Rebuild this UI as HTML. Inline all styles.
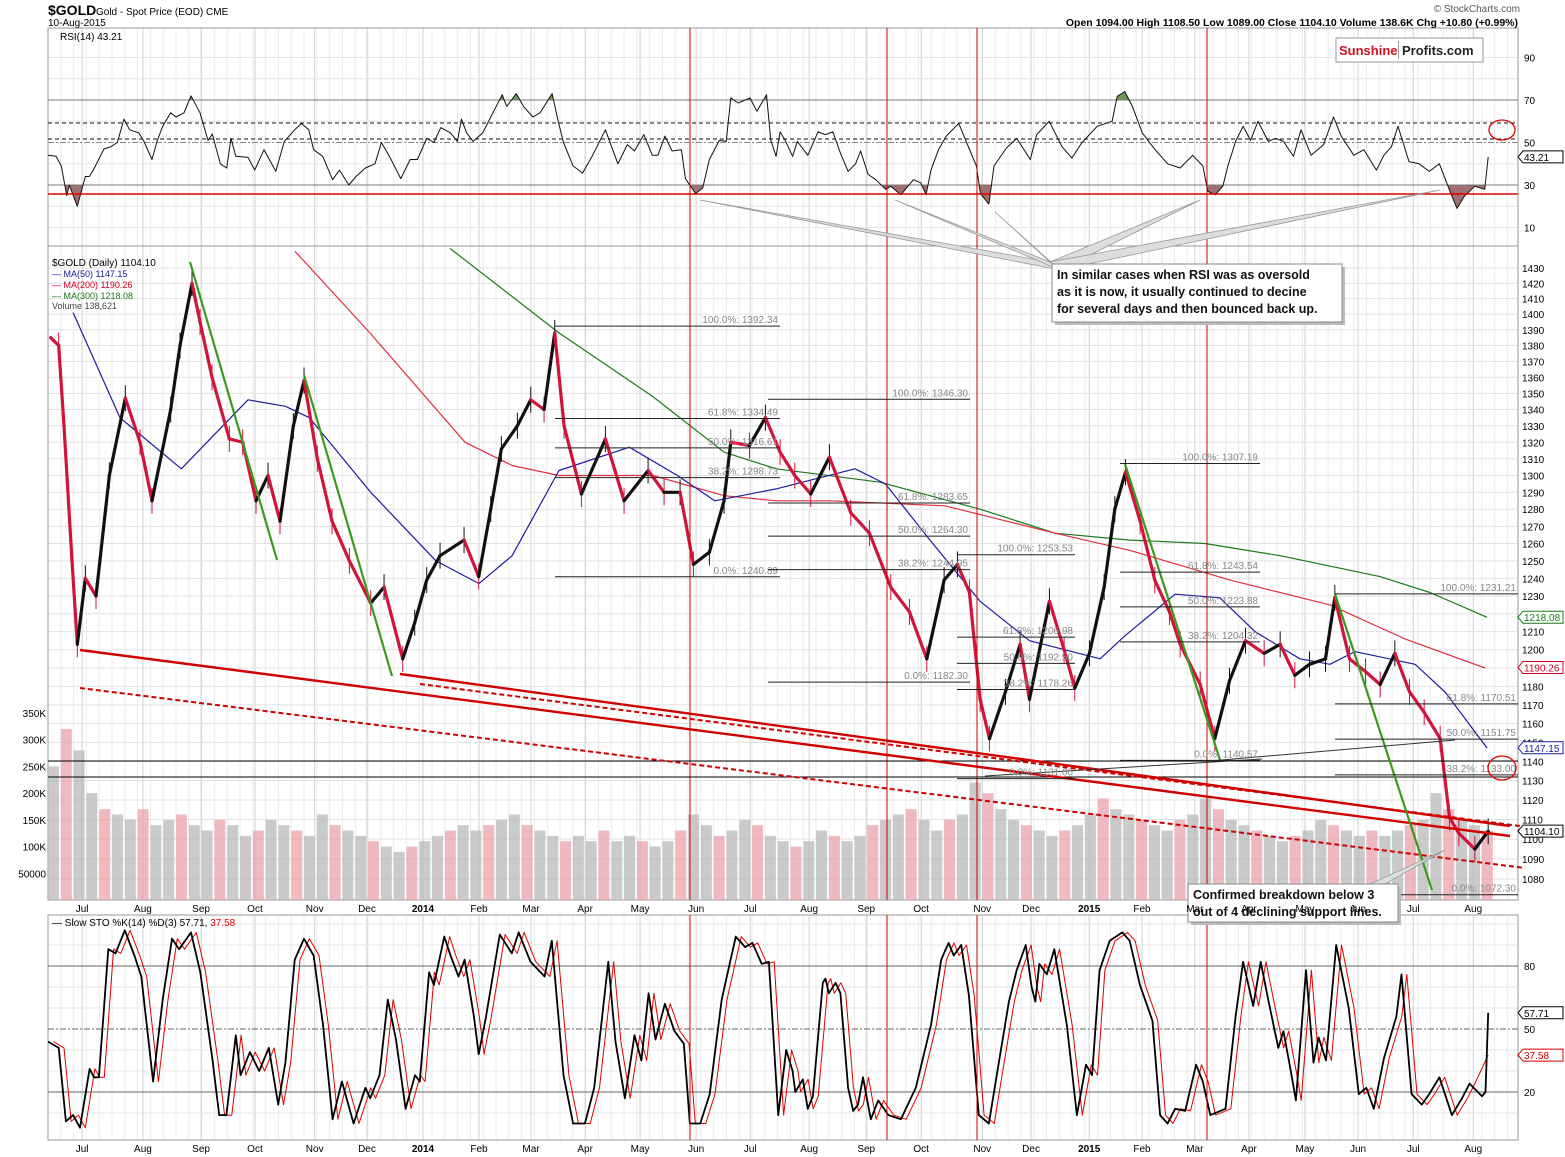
<!DOCTYPE html>
<html><head><meta charset="utf-8"><title>$GOLD chart</title>
<style>
html,body{margin:0;padding:0;background:#fff;}
svg{display:block;font-family:"Liberation Sans",Arial,sans-serif;}
</style></head>
<body>
<svg id="chart" width="1565" height="1157" viewBox="0 0 1565 1157" xmlns="http://www.w3.org/2000/svg">
<rect x="0" y="0" width="1565" height="1157" fill="#fff"/>
<g id="grid"></g>
<g id="panels"></g>
<g id="marks"></g>
<g id="annot"></g>
<g id="labels"></g>
</svg>
<script>
// ---------- data ----------
const monthLabels = ["Jul","Aug","Sep","Oct","Nov","Dec","2014","Feb","Mar","Apr","May","Jun","Jul","Aug","Sep","Oct","Nov","Dec","2015","Feb","Mar","Apr","May","Jun","Jul","Aug"];
const monthDays = [12.8,35.6,57.4,77.6,100,119.6,140.6,161.6,181.1,201.4,222,243,263.3,285.4,306.8,327.4,350.3,368.6,390.4,410.2,430,450.3,471.3,491.2,511.9,534.4];
const priceTicks = [1430,1420,1410,1400,1390,1380,1370,1360,1350,1340,1330,1320,1310,1300,1290,1280,1270,1260,1250,1240,1230,1220,1210,1200,1190,1180,1170,1160,1150,1140,1130,1120,1110,1100,1090,1080];
const volTicks = [350,300,250,200,150,100,50];
const volTickLabels = ["350K","300K","250K","200K","150K","100K","50000"];
const rsiTicks = [90,70,50,30,10];
const stoTicks = [80,50,20];

const priceDays = [1,4,6,9,11,14,18,23,29,34.5,39,46,49.5,54,57,61.5,68,73,78,82.5,87,92,96,101,106.5,113,121,126,133,137.5,142,147,156,161.5,166,170,176,181,186,190,193.5,200,209,216,225,231,237,242,248,253.5,256,263,269,274.5,280,286,293,301,308,316,323,329.5,336,341,345.5,349.5,353,359,364.5,368,375.5,381,385,390.5,396,400,404,409.5,415,420.5,424.5,432,437.5,443,449,456,462,467.5,473,479,482.5,488,494,499.5,505,510.5,516,522,525.5,529,535,540];
const priceCloses = [1385,1380,1330,1250,1203,1240,1230,1300,1347,1320,1285,1340,1380,1420,1395,1360,1322,1320,1285,1300,1273,1330,1358,1310,1273,1250,1226,1235,1195,1215,1239,1253,1262,1241,1280,1316,1330,1346,1340,1388,1330,1289,1322,1285,1303,1290,1290,1248,1255,1285,1320,1318,1335,1314,1300,1289,1311,1278,1266,1235,1221,1195,1239,1248,1232,1173,1152,1177,1203,1173,1227,1200,1179,1198,1235,1280,1302,1273,1239,1221,1203,1181,1152,1183,1205,1198,1203,1186,1192,1195,1229,1195,1188,1181,1198,1177,1166,1152,1111,1103,1095,1104];

const ma50Days = [9.4,27,50,75,89,98,121,145.5,161.6,174,191.6,218,236,250,273,302.6,314,330.7,349.5,368,394.5,404,422.6,439.4,452.6,469.4,480.7,490,512.6,523.8,539.6];
const ma50Vals = [1401,1335,1304,1346,1342,1335,1290,1250,1237,1253,1303,1317,1300,1285,1292,1304,1295,1262,1227,1205,1195,1208,1231,1229,1210,1195,1192,1199,1192,1177,1147];
const ma200Days = [92.6,120.7,156.4,174,191.6,226.8,253.5,273,293.2,336.3,377.6,405.7,443.2,480.7,508.8,538.8];
const ma200Vals = [1441,1388,1320,1306,1300,1300,1288,1285,1285,1282,1266,1256,1239,1225,1206,1190];
const ma300Days = [150.7,191.6,226.8,253.5,273,312,349.5,377.6,405.7,433.8,462,499.4,518.2,539.6];
const ma300Vals = [1443,1388,1348,1314,1304,1296,1280,1266,1262,1260,1253,1241,1232,1218];

const volWeeks = [250,320,280,200,170,160,150,170,140,150,160,140,130,150,140,120,130,150,140,130,120,160,140,130,120,110,100,90,100,110,120,130,140,130,140,150,160,140,130,120,110,120,110,130,110,120,110,100,110,130,160,140,120,130,150,140,120,110,100,110,130,120,110,120,140,150,160,170,150,130,150,160,220,200,170,150,140,130,120,130,140,160,190,170,160,150,140,130,150,160,190,170,150,140,130,120,110,120,130,150,140,130,120,130,120,130,140,150,200,170,150,140,130];

const rsiDays = [0,3,5,7,8,11,14,15.5,17,21,23.5,26,28.5,30.6,34,36,39,41,43,46,48,51,53.6,57,60,61.6,64.6,67,68.6,70.4,75,77.5,81,85.4,88.6,92.5,95,97.8,99.6,103,106.7,109.3,112.8,115.5,119,122.6,125,128,132.3,135.8,138.5,142,144.7,147.3,150.9,153.5,155,157,159.4,163,166.8,170.3,172,175.6,178.3,181.8,184.5,189,191.5,193.3,196.9,200.4,204,209,213.7,217.2,219.9,223.4,226.6,228.7,231.3,234,237.5,239,242.8,245.5,248,251.7,254.3,256,258.8,263.2,265.8,269.4,271,273,274.5,276.4,279.2,281,284.9,288.7,291.5,294.3,297.1,300,302.8,304.7,307.5,310.4,314.1,316,319.8,324.5,327.3,329.2,331.1,333.9,336.8,341.5,345.3,348.1,349.6,352.8,354.7,359.4,363.2,368.3,370.7,375.4,380.2,383.9,387.7,393.4,399,400.9,403.7,406.6,410.3,415.1,419.8,424.5,429.2,433,434.9,437.7,440.5,442.4,445.3,448.1,450.9,453.7,457.5,460.3,463.2,467,469.8,473.6,478.3,482,484.9,489.6,493.4,498.1,500.9,503.7,506.2,510.3,514.1,517.9,521.7,525.4,528.3,531.1,534.9,538.7,540];
const rsiVals = [44,43.5,39,25,30,20,34,34,37,47,48,50,61,56,54.5,50.5,42,51,57.6,64,62,64,72,64,51,54,40,38,52,43.5,43,37,46.6,36.4,50.5,56,59,56,46.6,43.5,32.5,37,30,34,38,40,50,43.5,33,42,42,52,50,57,54.5,50.5,61,54.5,50.5,54.5,64,72.5,67,73,67,62,64,73,59,50,39,35.6,43.5,56,40,49,46,53.7,44,44,53,46,46.6,33,26,28.6,42,51,50.5,71,68.6,71,64.7,72.5,51,43.5,55,51,43.5,50.5,44,55,53.7,55,45,36.4,40,46,35,32.5,28,29.4,25.4,32.5,31,25.4,37,46.6,53,59,47.4,39,26,21,39,47.4,52,42,53.7,60,48,42.7,50,57.6,60,71.7,74,67,54.5,46.6,40,38,44,39,27,25.4,29.4,39,50.5,57.6,51,60,50.5,52,50.5,43.5,56,44,49,62,53,44,46.6,37,44,48,57.6,41,40,36.4,40,28,19,24.7,29.4,28,43.21];

const stoDays = [0,4,6.7,9.4,12,15.6,17.3,19.1,22.6,25.3,28.8,32.4,35,39.4,43,46.5,49.2,53.6,57.1,61.6,64.2,66.9,70.4,72.2,75.7,79.2,82.8,86.3,89,92.5,96,99.6,103.1,106.7,110.2,114.6,119,120.8,124.3,127.4,130.5,134.1,137.6,139.4,142.9,144.7,148.6,150.9,153.9,156.2,159.7,161.5,164.1,169.4,173.9,176.5,180.9,186.2,188.9,193.3,196.9,201.3,204.8,210.1,212.8,216.3,219.9,222.5,225.2,227.8,231.3,234.9,238.4,240.7,244.6,248.1,252.6,257.9,261.4,264.1,267.6,270.3,273.8,276.8,279.2,280.2,283,284.9,286.8,290.5,291.5,292.8,295.3,297.1,300,301.9,303.7,305.6,308.5,311.3,315.1,319.8,325.4,331.1,334.9,337.7,339.6,342.4,345.3,349,352.8,355.6,360.3,363.2,366.6,368.8,370.2,371.7,374.5,377.3,382,385.8,389.2,391.5,394.3,398.1,402.8,405.6,409.4,414.1,417,419.8,422.6,426.4,430.5,433,435.8,441.5,445.3,448.1,451.9,454.7,457.5,461.3,463.2,466,467.9,471.7,474.5,476.4,479.2,483,487.7,491.5,494.3,497.1,500.9,505.6,507.5,511.3,515.1,517.9,521.7,526.4,530.2,533,537.7,539,540];
const stoK = [44,41,6,9,3,31,27,27,88,86,97,85,75,25,64,93,88,96,77,36,9,9,47,28,39,30,41,14,34,83,93,85,52,7,25,5,22,17,28,64,45,12,28,25,77,71,94,85,75,83,56,38,55,95,86,96,82,75,92,28,5,5,22,82,44,17,47,35,67,45,62,49,43,5,5,19,64,94,89,91,81,82,9,40,30,20,26,12,18,72,74,67,72,67,22,11,14,27,7,16,9,7,22,52,83,91,85,90,66,9,5,27,63,78,90,70,63,81,76,88,52,9,33,28,78,92,96,92,71,54,9,5,12,11,33,25,9,12,56,82,61,82,64,41,49,30,16,78,34,46,35,90,60,19,22,12,36,56,76,19,14,19,27,9,17,24,18,20,57.71];
const stoDLagDays = 2;
const stoDLast = 37.58;

// ---------- scales ----------
const X0 = 48, DX = 2.667;
const xT = t => X0 + t * DX;
const yP = p => 268 + 2177 * Math.log(1430 / p);
const yV = v => 900 - v * 0.5343;
const yR = r => 100 + (70 - r) * 2.125;
const yS = s => 966 + (80 - s) * 2.1;
const PL = 48, PR = 1518;
const NS = "http://www.w3.org/2000/svg";
function mk(tag, attrs, parent, text) {
  const e = document.createElementNS(NS, tag);
  for (const k in attrs) e.setAttribute(k, attrs[k]);
  if (text !== undefined) e.textContent = text;
  parent.appendChild(e);
  return e;
}
const G = document.getElementById('grid'), P = document.getElementById('panels'),
      M = document.getElementById('marks'), A = document.getElementById('annot'),
      L = document.getElementById('labels'), S = document.getElementById('chart');

const defs = mk('defs', {}, S);
function clip(id, y1, y2) { const c = mk('clipPath', {id: id}, defs); mk('rect', {x: PL, y: y1, width: PR - PL, height: y2 - y1}, c); }
clip('cRsi', 28, 246); clip('cMain', 246, 900); clip('cSto', 915, 1140);
const cb = mk('clipPath', {id: 'cRsiLow'}, defs); mk('rect', {x: PL, y: yR(30), width: PR - PL, height: 60}, cb);
const ca = mk('clipPath', {id: 'cRsiHigh'}, defs); mk('rect', {x: PL, y: 28, width: PR - PL, height: yR(70) - 28}, ca);

// ---------- grid ----------
const panelsY = [[28, 246], [246, 900], [915, 1140]];
for (let w = 0; w < 115; w++) {
  const x = xT(w * 4.8);
  if (x > PR) break;
  panelsY.forEach(py => {
    const l = mk('line', {x1: x, x2: x, y1: py[0], y2: py[1], stroke: '#ececec', 'stroke-width': 1}, G);
    
    
  });
}
monthDays.forEach(t => {
  panelsY.forEach(py => {
    const l = mk('line', {x1: xT(t), x2: xT(t), y1: py[0], y2: py[1], stroke: '#d0d0d0', 'stroke-width': 1}, G);
    
    
  });
});
priceTicks.forEach(p => {
  const l = mk('line', {x1: PL, x2: PR, y1: yP(p), y2: yP(p), stroke: '#e2e2e2', 'stroke-width': 1}, G);
  
  
});
[90,80,60,40,20,10].forEach(r => {
  const l = mk('line', {x1: PL, x2: PR, y1: yR(r), y2: yR(r), stroke: '#e6e6e6'}, G);
  
  
});
[100,90,70,60,40,30,10].forEach(s => {
  const l = mk('line', {x1: PL, x2: PR, y1: yS(s), y2: yS(s), stroke: '#e6e6e6'}, G);
  
  
});

panelsY.forEach((py, i) => {
  const r = mk('rect', {x: PL, y: py[0], width: PR - PL, height: py[1] - py[0], fill: 'none', stroke: '#999', 'stroke-width': 1}, P);
  
  
});

// ---------- volume ----------
volWeeks.forEach((v, i) => {
  const t = i * 4.8;
  const x = xT(t);
  if (x > PR - 30) return;
  const col = (i % 3 === 1) ? '#e8a2aa' : '#b8b8b8';
  const r = mk('rect', {x: x, y: yV(v), width: 11, height: 900 - yV(v), fill: col, 'fill-opacity': 0.75}, M);
  
  
});

// ---------- MA lines ----------
function poly(days, vals, yf, color, w, name, clipId) {
  const pts = days.map((d, i) => xT(d).toFixed(1) + ',' + yf(vals[i]).toFixed(1)).join(' ');
  const e = mk('polyline', {points: pts, fill: 'none', stroke: color, 'stroke-width': w, 'clip-path': 'url(#' + clipId + ')', 'stroke-linejoin': 'round'}, M);
  
  
  return e;
}
poly(ma300Days, ma300Vals, yP, '#1a7a1a', 1.2, 'ma300-line', 'cMain');
poly(ma200Days, ma200Vals, yP, '#e03040', 1.2, 'ma200-line', 'cMain');
poly(ma50Days, ma50Vals, yP, '#1c1ca0', 1.2, 'ma50-line', 'cMain');

// ---------- price ----------
for (let i = 1; i < priceDays.length; i++) {
  const down = priceCloses[i] < priceCloses[i - 1];
  const col = down ? '#d0143c' : '#111';
  const l = mk('line', {x1: xT(priceDays[i - 1]), y1: yP(priceCloses[i - 1]), x2: xT(priceDays[i]), y2: yP(priceCloses[i]), stroke: col, 'stroke-width': 3.2, 'stroke-linecap': 'round'}, M);
  
  
  const wk = mk('line', {x1: xT(priceDays[i]), x2: xT(priceDays[i]), y1: yP(priceCloses[i]) - 13, y2: yP(priceCloses[i]) + 13, stroke: col, 'stroke-width': 1}, M);
  
  
}

// ---------- RSI ----------
(function () {
  const pts = rsiDays.map((d, i) => xT(d).toFixed(1) + ',' + yR(rsiVals[i]).toFixed(1));
  const lowPoly = mk('polygon', {points: xT(rsiDays[0]) + ',' + yR(30) + ' ' + pts.join(' ') + ' ' + xT(rsiDays[rsiDays.length - 1]) + ',' + yR(30), fill: '#a07070', 'clip-path': 'url(#cRsiLow)'}, M);
  
  
  const hiPoly = mk('polygon', {points: xT(rsiDays[0]) + ',' + yR(70) + ' ' + pts.join(' ') + ' ' + xT(rsiDays[rsiDays.length - 1]) + ',' + yR(70), fill: '#6a9a50', 'clip-path': 'url(#cRsiHigh)'}, M);
  
  
})();
[[70, '#777', ''], [30, '#777', ''], [50, '#888', '6,2,2,2']].forEach(o => {
  const l = mk('line', {x1: PL, x2: PR, y1: yR(o[0]), y2: yR(o[0]), stroke: o[1], 'stroke-width': 1, 'stroke-dasharray': o[2]}, M);
  
  
});
[123, 139].forEach(y => {
  const l = mk('line', {x1: PL, x2: PR, y1: y, y2: y, stroke: '#111', 'stroke-width': 1, 'stroke-dasharray': '4,3'}, A);
  
  
});
poly(rsiDays, rsiVals, yR, '#111', 1, 'rsi-line', 'cRsi');
{ const l = mk('line', {x1: PL, x2: PR, y1: 194, y2: 194, stroke: '#e00000', 'stroke-width': 1.5}, A);
    }

// ---------- Stochastic ----------
[[80, ''], [20, ''], [50, '6,2,2,2']].forEach(o => {
  const l = mk('line', {x1: PL, x2: PR, y1: yS(o[0]), y2: yS(o[0]), stroke: '#666', 'stroke-width': 1, 'stroke-dasharray': o[1]}, M);
  
  
});
{
  const dDays = stoDays.map(d => d + stoDLagDays).filter(d => d <= 540);
  const dVals = stoK.slice(0, dDays.length - 1).concat([stoDLast]);
  dDays[dDays.length - 1] = 540;
  poly(dDays, dVals, yS, '#e00000', 1, 'sto-d-line', 'cSto');
}
poly(stoDays, stoK, yS, '#000', 1.8, 'sto-k-line', 'cSto');

// ---------- annotations ----------
function ln(x1, y1, x2, y2, c, w, name, dash) {
  const l = mk('line', {x1: x1, y1: y1, x2: x2, y2: y2, stroke: c, 'stroke-width': w, 'stroke-dasharray': dash || ''}, A);
  
  
}
[690, 887, 977, 1207].forEach(x => {
  ln(x, 28, x, 246, '#d00000', 1, 'vertical-red-marker');
  ln(x, 246, x, 900, '#d00000', 1, 'vertical-red-marker');
  ln(x, 915, x, 1140, '#d00000', 1, 'vertical-red-marker');
});
ln(PL, 761, PR, 761, '#000', 1, 'support-horizontal');
ln(PL, 777, PR, 777, '#000', 1, 'support-horizontal');
ln(80, 650, 1510, 836, '#d00000', 2.4, 'declining-support-solid');
ln(400, 674, 1510, 826, '#d00000', 2.4, 'declining-support-solid');
ln(80, 688, 1525, 868, '#d00000', 2, 'declining-support-dashed', '5,3');
ln(420, 684, 1520, 826, '#d00000', 2, 'declining-support-dashed', '5,3');
ln(190, 262, 277, 560, '#3a9a1a', 2.2, 'green-trend');
ln(304, 375, 392, 676, '#3a9a1a', 2.2, 'green-trend');
ln(1125, 464, 1220, 760, '#3a9a1a', 2.2, 'green-trend');
ln(1335, 594, 1432, 890, '#3a9a1a', 2.2, 'green-trend');
ln(985, 776, 1262, 759, '#333', 1, 'rising-line');
ln(1210, 761, 1455, 740, '#333', 1, 'rising-line');
const fibs = [
  [555, 780, 1392.34, '100.0%: 1392.34'], [555, 780, 1334.49, '61.8%: 1334.49'], [555, 780, 1316.61, '50.0%: 1316.61'], [555, 780, 1298.73, '38.2%: 1298.73'], [555, 780, 1240.89, '0.0%: 1240.89'],
  [768, 970, 1346.30, '100.0%: 1346.30'], [768, 970, 1283.65, '61.8%: 1283.65'], [768, 970, 1264.30, '50.0%: 1264.30'], [768, 970, 1244.95, '38.2%: 1244.95'], [768, 970, 1182.30, '0.0%: 1182.30'],
  [957, 1075, 1253.53, '100.0%: 1253.53'], [957, 1075, 1206.98, '61.8%: 1206.98'], [957, 1075, 1192.50, '50.0%: 1192.50'], [957, 1075, 1178.26, '38.2%: 1178.26'], [957, 1075, 1131.00, '0.0%: 1131.00'],
  [1120, 1260, 1307.19, '100.0%: 1307.19'], [1120, 1260, 1243.54, '61.8%: 1243.54'], [1120, 1260, 1223.88, '50.0%: 1223.88'], [1120, 1260, 1204.32, '38.2%: 1204.32'], [1120, 1260, 1140.57, '0.0%: 1140.57'],
  [1335, 1555, 1231.21, '100.0%: 1231.21'], [1335, 1555, 1170.51, '61.8%: 1170.51'], [1335, 1555, 1151.75, '50.0%: 1151.75'], [1335, 1555, 1133.00, '38.2%: 1133.00'], [1335, 1555, 1072.30, '0.0%: 1072.30']
];
fibs.forEach(f => {
  const xe = Math.min(f[1], PR);
  ln(f[0], yP(f[2]), xe, yP(f[2]), '#222', 1, 'fib-level');
  const t = mk('text', {x: xe - 2, y: yP(f[2]) - 3, 'font-size': 10, fill: '#888', 'text-anchor': 'end'}, A, f[3]);
  
  
});
[[1502, 130, 13, 10], [1502, 768, 14, 12]].forEach(c => {
  const e = mk('ellipse', {cx: c[0], cy: c[1], rx: c[2], ry: c[3], fill: 'none', stroke: '#e00000', 'stroke-width': 1.3}, A);
  
  
});
[[700, 200], [895, 200], [995, 212], [1200, 200], [1440, 190]].forEach(p => {
  const e = mk('polygon', {points: p[0] + ',' + p[1] + ' 1050,262 1060,270', fill: '#ddd', stroke: '#999', 'stroke-width': 0.8}, A);
  
  
});
{ const e = mk('polygon', {points: '1445,850 1370,884 1385,884', fill: '#ddd', stroke: '#999', 'stroke-width': 0.8}, A);
    }
function box(x, y, w, h, lines, name) {
  const g = mk('g', {}, A);
  
  
  mk('rect', {x: x + 3, y: y + 3, width: w, height: h, fill: '#bbb'}, g);
  mk('rect', {x: x, y: y, width: w, height: h, fill: '#fff', stroke: '#888'}, g);
  lines.forEach((s, i) => mk('text', {x: x + 5, y: y + 15 + i * 17, 'font-size': 12.5, 'font-weight': 'bold', fill: '#111'}, g, s));
}
box(1052, 264, 290, 58, ['In similar cases when RSI was as oversold', 'as it is now, it usually continued to decine', 'for several days and then bounced back up.'], 'rsi-callout');
box(1188, 884, 210, 38, ['Confirmed breakdown below 3', 'out of 4 declining support lines.'], 'breakdown-callout');

// ---------- axis labels ----------
function txt(x, y, s, size, anchor, color, weight, name) {
  const t = mk('text', {x: x, y: y, 'font-size': size, 'text-anchor': anchor || 'start', fill: color || '#000', 'font-weight': weight || 'normal'}, L, s);
  
  
  return t;
}
priceTicks.forEach(p => txt(1522, yP(p) + 4, String(p), 10, 'start', '#000', 'normal', 'price-tick'));
volTicks.forEach((v, i) => txt(46, yV(v) + 4, volTickLabels[i], 10, 'end', '#000', 'normal', 'volume-tick'));
rsiTicks.forEach(r => txt(1524, yR(r) + 4, String(r), 10, 'start', '#000', 'normal', 'rsi-tick'));
stoTicks.forEach(s => txt(1524, yS(s) + 4, String(s), 10, 'start', '#000', 'normal', 'sto-tick'));
monthLabels.forEach((m, i) => {
  const b = /^20/.test(m);
  txt(xT(monthDays[i]), 912, m, 10, 'middle', '#000', b ? 'bold' : 'normal', 'x-tick-main');
  txt(xT(monthDays[i]), 1152, m, 10, 'middle', '#000', b ? 'bold' : 'normal', 'x-tick-bottom');
});
function vbox(y, s, color, name) {
  const g = mk('g', {}, L);
  
  
  mk('polygon', {points: `1518,${y} 1523,${y - 6} 1563,${y - 6} 1563,${y + 6} 1523,${y + 6}`, fill: '#fff', stroke: color}, g);
  mk('text', {x: 1524, y: y + 4, 'font-size': 10, fill: color}, g, s);
}
vbox(yP(1218.08), '1218.08', '#1a7a1a', 'ma300-value');
vbox(yP(1190.26), '1190.26', '#d00020', 'ma200-value');
vbox(yP(1147.15), '1147.15', '#1c1ca0', 'ma50-value');
vbox(yP(1104.10), '1104.10', '#000', 'price-value');
vbox(yR(43.21), '43.21', '#000', 'rsi-value');
vbox(yS(57.71), '57.71', '#000', 'sto-k-value');
vbox(yS(37.58), '37.58', '#d00000', 'sto-d-value');

txt(48, 15, '$GOLD', 14, 'start', '#000', 'bold', 'symbol-title');
txt(96, 15, 'Gold - Spot Price (EOD)  CME', 10, 'start', '#000', 'normal', 'instrument-name');
txt(48, 26, '10-Aug-2015', 10, 'start', '#000', 'normal', 'date-label');
txt(1520, 12, '© StockCharts.com', 10, 'end', '#555', 'normal', 'copyright');
txt(1518, 26, 'Open 1094.00  High 1108.50  Low 1089.00  Close 1104.10  Volume 138.6K  Chg +10.80 (+0.99%)', 10.5, 'end', '#000', 'bold', 'ohlc-summary');
txt(60, 40, 'RSI(14) 43.21', 10, 'start', '#000', 'normal', 'rsi-legend');
txt(52, 266, '$GOLD (Daily) 1104.10', 10, 'start', '#000', 'normal', 'price-legend');
txt(52, 277, '— MA(50) 1147.15', 9, 'start', '#1c1ca0', 'normal', 'ma50-legend');
txt(52, 288, '— MA(200) 1190.26', 9, 'start', '#d00020', 'normal', 'ma200-legend');
txt(52, 299, '— MA(300) 1218.08', 9, 'start', '#1a7a1a', 'normal', 'ma300-legend');
txt(52, 309, 'Volume 138,621', 9, 'start', '#444', 'normal', 'volume-legend');
{ const t = txt(52, 926, '— Slow STO %K(14) %D(3) 57.71, ', 10, 'start', '#000', 'normal', 'sto-legend');
  mk('tspan', {fill: '#e00000'}, t, '37.58'); }
{ const g = mk('g', {}, L);
  
  
  mk('rect', {x: 1336, y: 38, width: 147, height: 24, fill: '#fff', stroke: '#999'}, g);
  mk('text', {x: 1339, y: 55, 'font-size': 13, 'font-weight': 'bold', fill: '#d01020'}, g, 'Sunshine');
  mk('rect', {x: 1398, y: 41, width: 1, height: 18, fill: '#999'}, g);
  mk('text', {x: 1402, y: 55, 'font-size': 13, 'font-weight': 'bold', fill: '#222'}, g, 'Profits.com');
}
</script>
</body></html>
